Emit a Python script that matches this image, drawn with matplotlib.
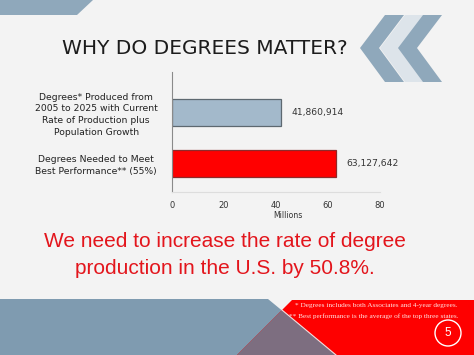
import numpy as np
import matplotlib
matplotlib.use("Agg")
import matplotlib.pyplot as plt
from matplotlib.patches import Polygon, Circle

# chart data
categories = ["Degrees* Produced from\n2005 to 2025 with Current\nRate of Production plus\nPopulation Growth",
              "Degrees Needed to Meet\nBest Performance** (55%)"]
values = [41860914, 63127642]
bar_colors = ["#a3b9cb", "#ff0000"]
edge_colors = ["#5d6870", "#8e2a2a"]
xticks = [0, 20, 40, 60, 80]

title = "WHY DO DEGREES MATTER?"
message = ["We need to increase the rate of degree", "production in the U.S. by 50.8%."]
notes = ["* Degrees includes both Associates and 4-year degrees.",
         "** Best performance is the average of the top three states."]

W, H = 474, 355
fig = plt.figure(figsize=(W / 100, H / 100), dpi=100)
fig.patch.set_facecolor("#f3f3f3")

# background layer in pixel coords
bg = fig.add_axes([0, 0, 1, 1])
bg.set_xlim(0, W)
bg.set_ylim(H, 0)
bg.axis("off")

blue = "#8fa8bb"
light = "#dde4ea"
bg.add_patch(Polygon([(0, 0), (93, 0), (77, 15), (0, 15)], color=blue, lw=0))

# chevrons
for x0, c in [(385, blue), (405, light), (423, blue)]:
    w = 19
    bg.add_patch(Polygon([(x0, 15), (x0 + w, 15), (x0 + w - 25, 48), (x0 + w, 82),
                          (x0, 82), (x0 - 25, 48)], color=c, lw=0))

bg.text(205, 48, title, ha="center", va="center", fontsize=14.5, color="#1c1c1c",
        family="DejaVu Sans")

# message
bg.text(225, 247, message[0], ha="center", va="baseline", fontsize=15, color="#e3151c",
        family="Liberation Sans")
bg.text(225, 274, message[1], ha="center", va="baseline", fontsize=15, color="#e3151c",
        family="Liberation Sans")

# bottom band
bg.add_patch(Polygon([(0, 299), (268, 299), (336, 355), (0, 355)], color="#7f9bb0", lw=0))
bg.add_patch(Polygon([(292, 300), (W, 300), (W, 355), (237, 355)], color="#fe0000", lw=0))
bg.add_patch(Polygon([(282, 310), (336, 355), (237, 355)], color="#7d6e80", lw=0))
bg.plot([282, 336], [310, 355], color="#f4dede", lw=0.8)
bg.text(295, 306, notes[0], ha="left", va="center", fontsize=5.2, color="#ffe2e2",
        family="Liberation Serif")
bg.text(289, 316, notes[1], ha="left", va="center", fontsize=5.2, color="#ffe2e2",
        family="Liberation Serif", clip_on=True)
bg.add_patch(Circle((448, 333), 13, fill=False, ec="white", lw=1.0))
bg.text(448, 333, "5", ha="center", va="center", fontsize=8.5, color="white",
        family="Liberation Sans")

# chart axes
left, right, top, bottom = 172, 380, 72, 192
ax = fig.add_axes([left / W, 1 - bottom / H, (right - left) / W, (bottom - top) / H])
ax.patch.set_alpha(0)
pos = np.arange(len(categories))
vals_m = np.array(values) / 1e6
ax.barh(pos, vals_m, height=0.53, color=bar_colors, edgecolor=edge_colors, linewidth=0.9)
for p, v, raw in zip(pos, vals_m, values):
    ax.text(v + 4, p, f"{raw:,}", ha="left", va="center", fontsize=6.6, color="#333333")
ax.set_xlim(0, 80)
ax.set_ylim(1.558, -0.79)
ax.set_xticks(xticks)
ax.set_xticklabels([str(t) for t in xticks])
ax.set_yticks(pos)
ax.set_yticklabels(categories)
for lbl in ax.get_yticklabels():
    lbl.set_ha("center")
    lbl.set_multialignment("center")
    lbl.set_fontsize(6.7)
    lbl.set_color("#222222")
    lbl.set_linespacing(1.38)
ax.tick_params(axis="y", length=0, pad=54.5)
ax.tick_params(axis="x", length=0, pad=6.5, labelsize=6, labelcolor="#333333")
ax.set_xlabel("Millions", fontsize=5.6, color="#333333")
ax.xaxis.set_label_coords(0.558, -0.155)
for s in ["top", "right"]:
    ax.spines[s].set_visible(False)
ax.spines["left"].set_color("#8a8a8a")
ax.spines["left"].set_linewidth(0.8)
ax.spines["bottom"].set_color("#dddddd")
ax.spines["bottom"].set_linewidth(0.8)

fig.savefig("out.png", dpi=100, facecolor=fig.get_facecolor())
